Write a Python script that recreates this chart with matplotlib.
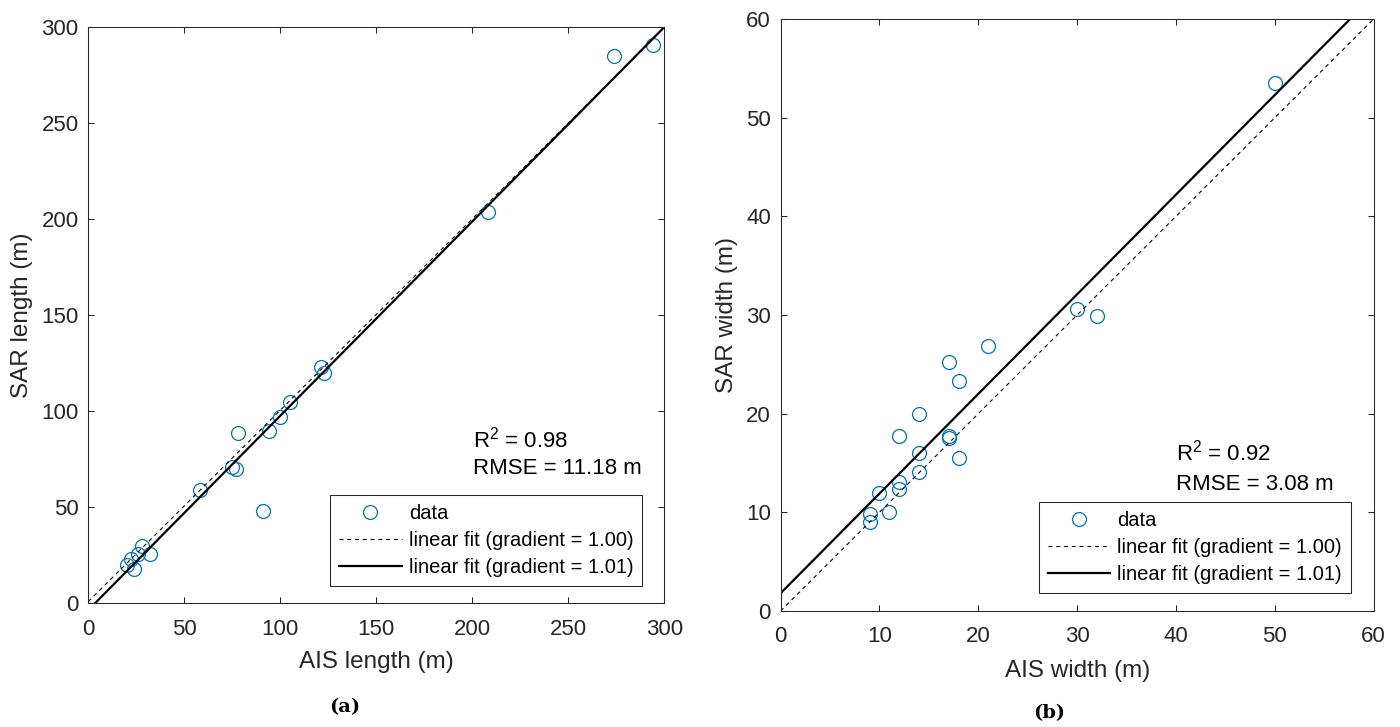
import numpy as np
import matplotlib
matplotlib.use("Agg")
import matplotlib.pyplot as plt

# (a) ship length, AIS vs SAR (m)
ais_length = [294, 274, 208, 121, 123, 105, 100, 94, 78, 75, 77, 58, 91,
              28, 32, 26, 22, 20, 24]
sar_length = [291, 285, 204, 123, 120, 105, 97, 90, 89, 71, 70, 59, 48,
              30, 26, 26, 23, 20, 18]
# fits: (gradient, intercept)
fit_length_ref = (0.997, 1.0)
fit_length = (1.012, -3.4)

# (b) ship width, AIS vs SAR (m)
ais_width = [50, 30, 32, 21, 17, 18, 14, 12, 17, 17, 14, 18, 14, 12, 12,
             10, 11, 9, 9]
sar_width = [53.5, 30.6, 29.9, 26.9, 25.2, 23.3, 20.0, 17.7, 17.7, 17.5,
             16.0, 15.5, 14.1, 13.1, 12.4, 12.0, 10.0, 9.8, 9.0]
fit_width_ref = (1.00, 0.0)
fit_width = (1.01, 1.8)

legend_labels = ["data", "linear fit (gradient = 1.00)",
                 "linear fit (gradient = 1.01)"]

plt.rcParams['font.family'] = ['Liberation Sans', 'DejaVu Sans']
axis_col = '#262626'
blue = '#0072BD'

fig = plt.figure(figsize=(14, 7.27), dpi=100)
ax1 = fig.add_axes([0.0631, 0.1699, 0.4114, 0.7923])
ax2 = fig.add_axes([0.5576, 0.1596, 0.4236, 0.8143])


def panel(ax, x, y, ref, fit, lim, step, xlabel, ylabel, r2, rmse, txt_y, xpad):
    xs = np.array([0, lim])
    ax.plot(x, y, 'o', mfc='none', mec=blue, ms=10, mew=0.9, label=legend_labels[0])
    ax.plot(xs, ref[0] * xs + ref[1], color='k', lw=0.8, ls=(0, (3.5, 3.5)),
            label=legend_labels[1])
    ax.plot(xs, fit[0] * xs + fit[1], color='k', lw=1.6, label=legend_labels[2])
    ax.set_xlim(0, lim)
    ax.set_ylim(0, lim)
    ticks = np.arange(0, lim + step, step)
    ax.set_xticks(ticks)
    ax.set_yticks(ticks)
    ax.tick_params(direction='in', length=4, width=0.75, colors=axis_col,
                   top=True, right=True, labelsize=16)
    ax.tick_params(axis='x', pad=11)
    ax.tick_params(axis='y', pad=7)
    for s in ax.spines.values():
        s.set_color(axis_col)
        s.set_linewidth(0.75)
    ax.set_xlabel(xlabel, fontsize=17.5, color=axis_col, labelpad=xpad)
    ax.set_ylabel(ylabel, fontsize=17.5, color=axis_col, labelpad=6)
    ax.text(0.667, txt_y[0], r"R$^{\mathregular{2}}$ = " + r2, transform=ax.transAxes,
            fontsize=16, va='baseline', color='k')
    ax.text(0.667, txt_y[1], "RMSE = " + rmse, transform=ax.transAxes,
            fontsize=16, va='baseline', color='k')
    leg = ax.legend(loc='lower right', bbox_to_anchor=(0.962, 0.03), fontsize=14.5,
                    frameon=True, fancybox=False, framealpha=1, edgecolor=axis_col,
                    borderaxespad=0, borderpad=0.45, labelspacing=0.4,
                    handlelength=3.1, handletextpad=0.35)
    leg.get_frame().set_linewidth(0.75)


panel(ax1, ais_length, sar_length, fit_length_ref, fit_length, 300, 50,
      "AIS length (m)", "SAR length (m)", "0.98", "11.18 m", (0.271, 0.224), 8)
panel(ax2, ais_width, sar_width, fit_width_ref, fit_width, 60, 10,
      "AIS width (m)", "SAR width (m)", "0.92", "3.08 m", (0.254, 0.204), 9)

fig.text(345 / 1400, 1 - 707 / 727, "(a)", family='DejaVu Serif', weight='bold',
         fontsize=14, ha='center', va='center')
fig.text(1049 / 1400, 1 - 713 / 727, "(b)", family='DejaVu Serif', weight='bold',
         fontsize=14, ha='center', va='center')

fig.savefig("out.png", dpi=100)
